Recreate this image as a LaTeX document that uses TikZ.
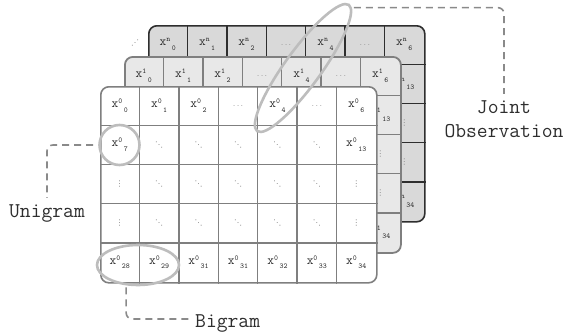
\documentclass[tikz,border=0pt]{standalone}
\usepackage{fontspec}
\newfontfamily\dotsfont{DejaVu Sans}
\usepackage{graphicx}
\usetikzlibrary{calc, shapes.geometric}
\definecolor{inkgray}{HTML}{2E2E2E}
\definecolor{gridgray}{HTML}{7F7F7F}
\definecolor{backfill}{HTML}{D9D9D9}
\definecolor{midfill}{HTML}{E8E8E8}
\definecolor{ringgray}{HTML}{BDBDBD}
\definecolor{dashgray}{HTML}{8A8A8A}
\definecolor{dotgray}{HTML}{8C8C8C}

% cell texts
\newcommand{\xs}[2]{{\fontsize{13}{13}\selectfont x}\raisebox{4pt}{\fontsize{7.5}{7.5}\selectfont #1}\kern1.5pt\raisebox{-4.5pt}{\fontsize{7.5}{7.5}\selectfont #2}}
\newcommand{\hd}{\textcolor{dotgray}{\fontsize{7.5}{7.5}\selectfont...}}
\newcommand{\dd}{\textcolor{dotgray}{\dotsfont\fontsize{8}{8}\selectfont ⋱}}
\newcommand{\vd}{\textcolor{dotgray}{\dotsfont\fontsize{8}{8}\selectfont ⋮}}

% one sheet of the 7x5 observation grid: name, top-left corner, style, superscript
\newcommand{\gridlayer}[4]{%
  \node[#3] (#1) at (#2) {};
  \foreach \c in {1,...,6}
    \draw[#3 grid] ($(#1.north west)+(\c*39.43,0)$) -- ($(#1.south west)+(\c*39.43,0)$);
  \foreach \r in {1,...,4}
    \draw[#3 grid] ($(#1.north west)+(0,\r*39.2)$) -- ($(#1.north east)+(0,\r*39.2)$);
  \foreach \t [count=\c from 0] in {{\xs{#4}{0}},{\xs{#4}{1}},{\xs{#4}{2}},\hd,{\xs{#4}{4}},\hd,{\xs{#4}{6}}}
    \node[cell] (#1-0-\c) at ($(#1.north west)+(19.71+\c*39.43,19.6)$) {\t};
  \node[cell] (#1-1-0) at ($(#1.north west)+(19.71,58.8)$) {\xs{#4}{7}};
  \node[cell] (#1-1-6) at ($(#1.north west)+(256.3,58.8)$) {\xs{#4}{13}};
  \foreach \r in {1,2,3}
    \foreach \c in {1,...,5}
      \node[cell] (#1-\r-\c) at ($(#1.north west)+(19.71+\c*39.43,19.6+\r*39.2)$) {\dd};
  \foreach \r in {2,3} {
    \node[cell] (#1-\r-0) at ($(#1.north west)+(19.71,19.6+\r*39.2)$) {\vd};
    \node[cell] (#1-\r-6) at ($(#1.north west)+(256.3,19.6+\r*39.2)$) {\vd};
  }
  \foreach \s [count=\c from 0] in {28,29,31,31,32,33,34}
    \node[cell] (#1-4-\c) at ($(#1.north west)+(19.71+\c*39.43,176.4)$) {\xs{#4}{\s}};
}

\begin{document}
\begin{tikzpicture}[x=1pt, y=-1pt,
    sheet/.style={rectangle, rounded corners=8pt, minimum width=276, minimum height=196, inner sep=0pt, anchor=north west},
    backsheet/.style={sheet, fill=backfill, draw=inkgray, line width=1.6pt},
    backsheet grid/.style={draw=inkgray, line width=1.4pt},
    midsheet/.style={sheet, fill=midfill, draw=gridgray, line width=1.8pt},
    midsheet grid/.style={draw=gridgray, line width=1.4pt},
    frontsheet/.style={sheet, fill=white, draw=gridgray, line width=1.6pt},
    frontsheet grid/.style={draw=gridgray, line width=1.4pt},
    cell/.style={inner sep=0pt, text=inkgray, font=\ttfamily},
    ring/.style={draw=ringgray, line width=2.6pt, inner sep=0pt},
    link/.style={draw=dashgray, line width=1.6pt, dash pattern=on 7pt off 5pt, rounded corners=6pt},
    lbl/.style={text=inkgray, font=\ttfamily\fontsize{21}{24}\selectfont, inner sep=6pt},
]
\useasboundingbox (0,0) rectangle (566,332);

% Sheets, back to front
\gridlayer{xn}{148,25}{backsheet}{n}
\gridlayer{xone}{124,56}{midsheet}{1}
\gridlayer{xzero}{100,86}{frontsheet}{0}
\node[text=dotgray, font=\dotsfont\fontsize{8}{8}\selectfont, inner sep=0pt] (more) at (135,43) {⋰};

% Highlighted groups
\node[ring, circle, minimum size=40] (uni) at (119.5,145) {};
\node[ring, ellipse, minimum width=82, minimum height=40] (bi) at (138,265) {};
\node[ring, ellipse, minimum width=156, minimum height=36, rotate=54] (joint) at (303,68) {};

% Labels
\node[lbl, anchor=base] (unilbl) at (47,217) {Unigram};
\node[lbl, anchor=base west] (bilbl) at (189,327) {Bigram};
\node[lbl, anchor=base, align=center] (jlbl) at (504,137) {Joint\\Observation};

% Leaders
\draw[link, shorten <=5pt] (uni.west) -| (unilbl.north);
\draw[link, shorten <=2pt] (bi.240) |- ([yshift=4pt]bilbl.west);
\draw[link, shorten <=2pt] (joint.-3) -| (jlbl.north);

\end{tikzpicture}
\end{document}
